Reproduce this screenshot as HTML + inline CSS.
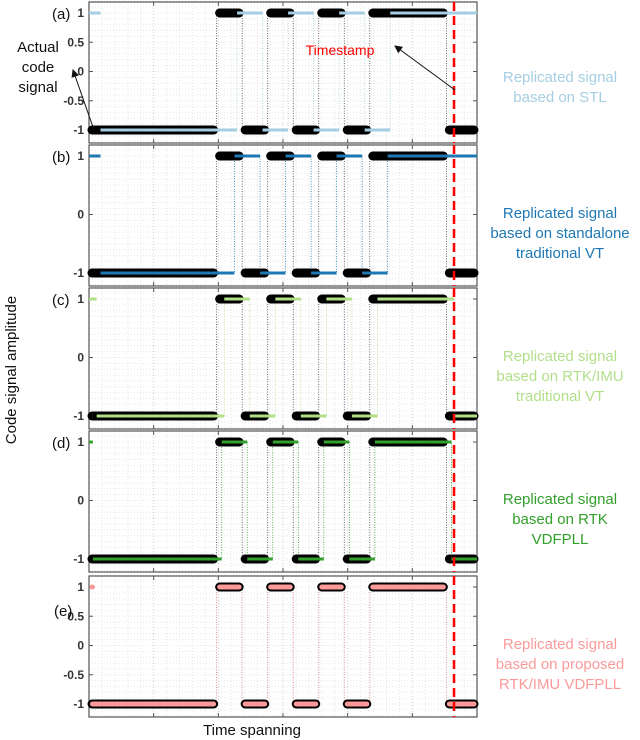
<!DOCTYPE html>
<html><head><meta charset="utf-8"><style>
body{margin:0;background:#fff;}
svg{display:block;font-family:"Liberation Sans",sans-serif;}
</style></head><body>
<svg id="chart" width="640" height="740"></svg>
<script>
// ---- data ----
const transitions = [5, 6, 7, 8, 9, 10, 11, 14];   // chip edges (time units); starts low
const timeMax = 15.2;
const timestamp = 14.3;
const panelIds = ['a','b','c','d','e'];
const panelDelays = [0.8, 0.7, 0.3, 0.2, 0];
const panelInitHigh = [0.45, 0.45, 0.3, 0.15, 0.02];
const panelDropsLast = [false, false, true, true, true];
const panelColors = ['#a6cee3','#1f78b4','#b2df8a','#33a02c','#fb9a99'];
const panelLabels = [
 ['Replicated signal','based on STL'],
 ['Replicated signal','based on standalone','traditional VT'],
 ['Replicated signal','based on RTK/IMU','traditional VT'],
 ['Replicated signal','based on RTK','VDFPLL'],
 ['Replicated signal','based on proposed','RTK/IMU VDFPLL']];
const panelTicks = [[1,0.5,0,-0.5,-1],[1,0,-1],[1,0,-1],[1,0,-1],[1,0.5,0,-0.5,-1]];
const panelTops = [2,145,288,431,576];

const NS='http://www.w3.org/2000/svg';
const svg=document.getElementById('chart');
const X0=89,X1=477,PH=141;
function xs(t){return X0+(X1-X0)*t/timeMax;}
function mk(tag,at,parent){const e=document.createElementNS(NS,tag);for(const k in at)e.setAttribute(k,at[k]);(parent||svg).appendChild(e);return e;}
function segs(delay,init,dropLast){
  const out=[];let lvl=-1,prev=0;
  if(init>0){out.push([0,init,1]);prev=init;}
  const tr=transitions.map(t=>t+delay);
  const n=dropLast?tr.length:tr.length-1;
  for(let i=0;i<n;i++){out.push([prev,Math.min(tr[i],timeMax),lvl]);prev=tr[i];lvl=-lvl;}
  out.push([prev,timeMax,lvl]);
  return out.filter(s=>s[1]>s[0]);
}
const actual=segs(0,0,true);
panelIds.forEach((id,p)=>{
  const top=panelTops[p];
  const ys=v=>top+69.5-58.5*v;
  const g=mk('g',{});
  
  
  for(let i=0;i<=30;i++){const x=X0+(X1-X0)*i/30;
    mk('line',{x1:x,x2:x,y1:top,y2:top+PH,stroke:i%5==0?'#cfcfcf':'#e6e6e6','stroke-dasharray':'1 2','stroke-width':1},g);}
  for(let v=-1.2;v<=1.21;v+=0.1){const y=ys(v);
    mk('line',{x1:X0,x2:X1,y1:y,y2:y,stroke:'#e6e6e6','stroke-dasharray':'1 2'},g);}
  const fr=mk('rect',{x:X0,y:top,width:X1-X0,height:PH,fill:'none',stroke:'#555','stroke-width':1.2},g);
  
  
  for(let i=0;i<=6;i++){const x=X0+(X1-X0)*i/6;
    mk('line',{x1:x,x2:x,y1:top,y2:top+4,stroke:'#555'},g);mk('line',{x1:x,x2:x,y1:top+PH,y2:top+PH-4,stroke:'#555'},g);}
  panelTicks[p].forEach(v=>{const y=ys(v);
    mk('line',{x1:X0,x2:X0+4,y1:y,y2:y,stroke:'#555'},g);mk('line',{x1:X1,x2:X1-4,y1:y,y2:y,stroke:'#555'},g);
    const t=mk('text',{x:84,y:y+4,'text-anchor':'end','font-size':12,'font-weight':'bold',fill:'#333'},g);t.textContent=v;
    });
  const pl=mk('text',{x:id==='e'?54:52,y:id==='e'?top+40:top+17,'font-size':15,fill:'#111'},g);pl.textContent='('+id+')';
  
  const col=panelColors[p];
  const rep=segs(panelDelays[p],panelInitHigh[p],panelDropsLast[p]);
  for(let i=1;i<actual.length;i++){const x=xs(actual[i][0]);
    mk('line',{x1:x,x2:x,y1:ys(1),y2:ys(-1),stroke:'#444','stroke-dasharray':'1 1.5','stroke-width':0.8},g);}
  for(let i=2;i<rep.length;i++){const x=xs(rep[i][0]);
    mk('line',{x1:x,x2:x,y1:ys(1),y2:ys(-1),stroke:col,'stroke-dasharray':'1 1.5','stroke-width':0.8},g);}
  actual.forEach(s=>{const b=mk('line',{x1:xs(s[0])+3,x2:xs(s[1])-3,y1:ys(s[2]),y2:ys(s[2]),stroke:'#000','stroke-width':9,'stroke-linecap':'round'},g);
    });
  rep.forEach(s=>{const w=id==='e'?5:3;const pad=id==='e'?3:0;
    const x1=xs(s[0])+pad,x2=Math.max(xs(s[1])-pad,x1+0.5);
    const b=mk('line',{x1:x1,x2:x2,y1:ys(s[2]),y2:ys(s[2]),stroke:col,'stroke-width':w,'stroke-linecap':id==='e'?'round':'butt'},g);
    });
  const tl=mk('line',{x1:xs(timestamp),x2:xs(timestamp),y1:top,y2:top+PH,stroke:'#f00','stroke-width':2.5,'stroke-dasharray':'9 5'},g);
  
  const n=panelLabels[p].length;const cy=top+(n==2?80:73);
  panelLabels[p].forEach((s,i)=>{const t=mk('text',{x:560,y:cy+i*20,'text-anchor':'middle','font-size':15,fill:col},g);t.textContent=s;
    });
});
const defs=mk('defs',{});
const m=mk('marker',{id:'ah',markerWidth:8,markerHeight:8,refX:7,refY:4,orient:'auto'},defs);
mk('path',{d:'M0,0 L8,4 L0,8 z',fill:'#111'},m);
['Actual','code','signal'].forEach((s,i)=>{const t=mk('text',{x:38,y:52+i*20,'text-anchor':'middle','font-size':15,fill:'#111'});t.textContent=s;
  });
const a1=mk('line',{x1:94,y1:130,x2:73,y2:70,stroke:'#111','stroke-width':1,'marker-end':'url(#ah)'});

const ts=mk('text',{x:340,y:55,'text-anchor':'middle','font-size':14,fill:'#f00'});ts.textContent='Timestamp';

const a2=mk('line',{x1:455,y1:90,x2:395,y2:46,stroke:'#111','stroke-width':1,'marker-end':'url(#ah)'});

const yt=mk('text',{x:0,y:0,'text-anchor':'middle','font-size':15,fill:'#111',transform:'translate(16,370) rotate(-90)'});yt.textContent='Code signal amplitude';

const xt=mk('text',{x:252,y:735,'text-anchor':'middle','font-size':15,fill:'#111'});xt.textContent='Time spanning';

</script>
</body></html>
